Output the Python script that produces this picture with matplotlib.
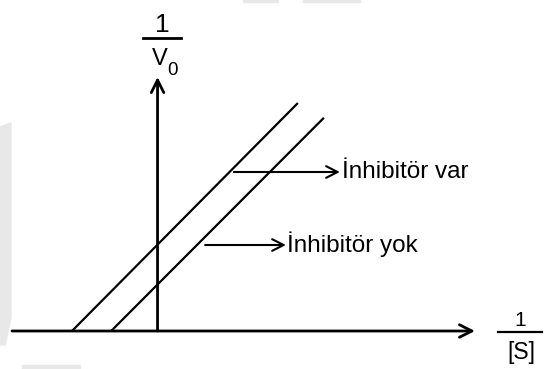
import matplotlib
matplotlib.use("Agg")
import matplotlib.pyplot as plt
from matplotlib.patches import Polygon, Rectangle
from matplotlib.lines import Line2D

plt.rcParams['font.family'] = ['Liberation Sans', 'DejaVu Sans']

# Lineweaver-Burk lines (x = 1/[S], y = 1/V0), arbitrary units
var_x = [-2.14, 3.51]   # inhibitör var
var_y = [0.0, 5.70]
yok_x = [-1.16, 4.16]   # inhibitör yok
yok_y = [0.0, 5.33]

labels = ["İnhibitör var", "İnhibitör yok"]
label_arrow_y = [3.975, 2.15]
label_arrow_x0 = [1.91, 1.19]
label_arrow_x1 = [4.56, 3.21]

W, H = 545, 369
fig = plt.figure(figsize=(W / 100, H / 100), dpi=100)
ax = fig.add_axes([0, 0, 1, 1])
ax.set_xlim(-3.94, 9.69)
ax.set_ylim(-0.95, 8.275)
ax.axis("off")


def fx(px):
    return px / W


def fy(py):
    return 1 - py / H


# faint grey watermark bits
wm = "#e8e8e8"
fig.patches.append(Polygon([(fx(0), fy(127)), (fx(11), fy(123)), (fx(11), fy(318)),
                            (fx(5), fy(345)), (fx(0), fy(345))],
                           closed=True, transform=fig.transFigure, color=wm, zorder=0))
fig.patches.append(Rectangle((fx(22), fy(369)), fx(58), 4 / H,
                             transform=fig.transFigure, color=wm, zorder=0))
fig.patches.append(Rectangle((fx(243), fy(2)), fx(35), 2 / H,
                             transform=fig.transFigure, color=wm, zorder=0))
fig.patches.append(Rectangle((fx(303), fy(2)), fx(57), 2 / H,
                             transform=fig.transFigure, color=wm, zorder=0))

# axes with arrows
axis_kw = dict(arrowstyle="->,head_length=0.6,head_width=0.3", lw=2.0,
               color="black", shrinkA=0, shrinkB=0, mutation_scale=15)
ax.annotate("", xy=(7.94, 0), xytext=(-3.64, 0), arrowprops=axis_kw)
ax.annotate("", xy=(0, 6.35), xytext=(0, 0), arrowprops=axis_kw)

# the two lines
ax.plot(var_x, var_y, color="black", lw=1.6, solid_capstyle="butt")
ax.plot(yok_x, yok_y, color="black", lw=1.6, solid_capstyle="butt")

# label arrows
lab_kw = dict(arrowstyle="->,head_length=0.55,head_width=0.28", lw=1.5,
              color="black", shrinkA=0, shrinkB=0, mutation_scale=15)
for i in range(2):
    ax.annotate("", xy=(label_arrow_x1[i], label_arrow_y[i]),
                xytext=(label_arrow_x0[i], label_arrow_y[i]), arrowprops=lab_kw)
fig.text(fx(342), fy(178), labels[0], fontsize=17.5, va="baseline", ha="left")
fig.text(fx(287), fy(252), labels[1], fontsize=17.5, va="baseline", ha="left")

# 1/V0 label
fig.text(fx(162), fy(32), "1", fontsize=19, ha="center", va="baseline")
fig.add_artist(Line2D([fx(143), fx(181)], [fy(38), fy(38)], color="black", lw=2.0))
fig.text(fx(160), fy(65), "V", fontsize=17, ha="center", va="baseline")
fig.text(fx(173), fy(75), "0", fontsize=13.5, ha="center", va="baseline")

# 1/[S] label
fig.text(fx(520), fy(326), "1", fontsize=15, ha="center", va="baseline")
fig.add_artist(Line2D([fx(498), fx(542)], [fy(332), fy(332)], color="black", lw=1.6))
fig.text(fx(521), fy(359), "[S]", fontsize=16.5, ha="center", va="baseline")

fig.savefig("out.png", dpi=100)
